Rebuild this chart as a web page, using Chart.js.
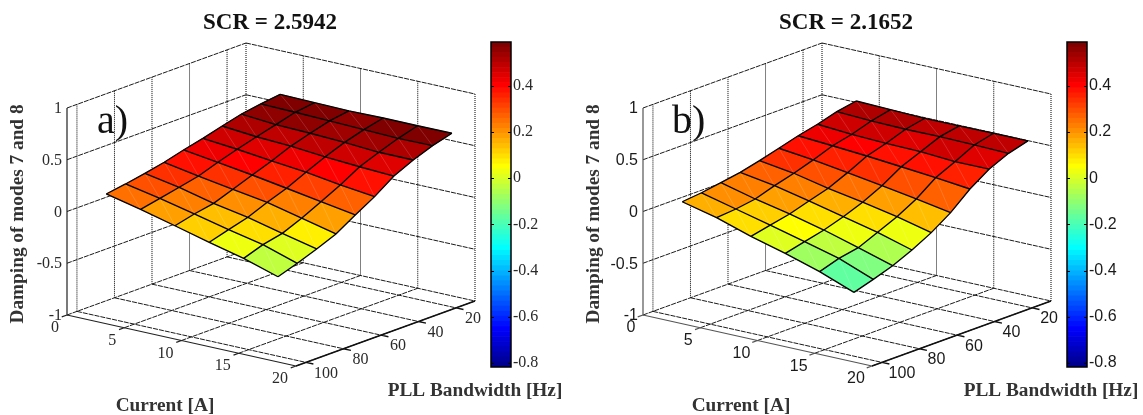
<!DOCTYPE html>
<html><head><meta charset="utf-8">
<script src="https://cdn.jsdelivr.net/npm/chart.js@4"></script>
<style>html,body{margin:0;padding:0;background:#fff;width:1143px;height:415px;overflow:hidden}
canvas{position:absolute;top:0}</style></head>
<body>
<canvas id="pa" width="571" height="415" style="left:0"></canvas>
<canvas id="pb" width="567" height="415" style="left:576px"></canvas>
<canvas id="ca" width="70" height="415" style="left:490px"></canvas>
<canvas id="cb" width="70" height="415" style="left:1066px"></canvas>
<script>
const currentGrid=[3,6,9,12,15,18];
const pllGrid=[10,20.3,30.6,40.9,51.2,61.5,71.8,82.1,92.4,102.7];
const dampingA=[
[.579,.555,.524,.476,.425,.38,.329,.29,.255,.226],
[.572,.547,.495,.446,.393,.335,.27,.229,.19,.152],
[.566,.537,.486,.43,.354,.286,.216,.148,.113,.067],
[.572,.527,.472,.40,.319,.232,.164,.087,.035,-.019],
[.571,.517,.45,.378,.27,.176,.084,.006,-.035,-.10],
[.572,.52,.449,.362,.231,.122,.006,-.071,-.142,-.204]];
const dampingB=[
[.514,.479,.425,.382,.329,.277,.232,.2,.17,.151],
[.504,.463,.402,.359,.29,.229,.177,.116,.087,.071],
[.495,.457,.389,.334,.241,.158,.103,.045,.006,-.035],
[.495,.459,.382,.304,.189,.097,.025,-.036,-.081,-.126],
[.498,.453,.359,.272,.135,.031,-.052,-.133,-.168,-.229],
[.498,.446,.362,.237,.076,-.049,-.149,-.233,-.297,-.355]];
const currentTicks=[0,5,10,15,20];
const pllTicks=[20,40,60,80,100];
const zTicks=[-1,-0.5,0,0.5,1];
const colorTicks=[-0.8,-0.6,-0.4,-0.2,0,0.2,0.4];
const cMin=-0.817,cMax=0.59;
const pMin=9.9,pMax=105.3,curMax=20;

const SERIF='"Liberation Serif","Times New Roman",serif', SANS='"Liberation Sans",Arial,sans-serif';
function jet(i){const t=(i+1)/64,f=v=>Math.round(255*Math.max(0,Math.min(1,v)));
  return `rgb(${f(1.5-Math.abs(4*t-3))},${f(1.5-Math.abs(4*t-2))},${f(1.5-Math.abs(4*t-1))})`;}
function colorOf(z){return jet(Math.max(0,Math.min(63,Math.floor((z-cMin)/(cMax-cMin)*64))));}
function proj(c,p,z){const u=c/curMax,v=(pMax-p)/(pMax-pMin),w=(z+1)/2;
  return {x:67+229*u+179*v,y:315+51*u-65*v-207*w};}
function segs(list){const o=[];list.forEach(s=>{s.forEach(q=>o.push(proj(q[0],q[1],q[2])));o.push({x:null,y:null});});return o;}
function lineDs(list,color,width,dash){return {data:segs(list),showLine:true,borderColor:color,borderWidth:width,borderDash:dash||[],pointRadius:0,fill:false,spanGaps:false};}

function panel(id,Z,opt){
  const ds=[];
  const tz=zTicks, vert=[],slant=[];
  pllTicks.forEach(p=>vert.push([[0,p,-1],[0,p,1]]));
  currentTicks.slice(1).forEach(c=>vert.push([[c,pMin,-1],[c,pMin,1]]));
  vert.push([[0,pMin,-1],[0,pMin,1]]);
  tz.slice(1).forEach(z=>{slant.push([[0,pMax,z],[0,pMin,z]]);slant.push([[0,pMin,z],[curMax,pMin,z]]);});
  currentTicks.slice(1).forEach(c=>slant.push([[c,pMax,-1],[c,pMin,-1]]));
  pllTicks.forEach(p=>slant.push([[0,p,-1],[curMax,p,-1]]));
  slant.push([[0,pMax,-1],[0,pMin,-1]],[[0,pMin,-1],[curMax,pMin,-1]]);
  ds.push(lineDs(vert,'#000',1,[1,1]));
  ds.push(lineDs(slant,'#1a1a1a',1,[5,1]));
  for(let i=0;i<currentGrid.length-1;i++)for(let j=0;j<pllGrid.length-1;j++){
    const col=colorOf(Z[i][j]);
    const q=[[i,j],[i+1,j],[i+1,j+1],[i,j+1],[i,j]].map(a=>proj(currentGrid[a[0]],pllGrid[a[1]],Z[a[0]][a[1]]));
    ds.push({data:q,showLine:true,borderColor:col,borderWidth:.6,backgroundColor:col,fill:'shape',pointRadius:0});
  }
  const diag=[],edge=[];
  for(let i=0;i<currentGrid.length-1;i++)for(let j=0;j<pllGrid.length-1;j++)
    diag.push([[currentGrid[i],pllGrid[j],Z[i][j]],[currentGrid[i+1],pllGrid[j+1],Z[i+1][j+1]]]);
  currentGrid.forEach((c,i)=>edge.push(pllGrid.map((p,j)=>[c,p,Z[i][j]])));
  pllGrid.forEach((p,j)=>edge.push(currentGrid.map((c,i)=>[c,p,Z[i][j]])));
  ds.push(lineDs(diag,'rgba(255,255,255,.3)',.5));
  ds.push(lineDs(edge,'#000',1.35));
  const axes=[[[0,pMax,-1],[0,pMax,1]],[[0,pMax,-1],[curMax,pMax,-1]]];
  currentTicks.forEach(c=>axes.push([[c,pMax,-1],[c,pMax+2.8,-1]]));
  ds.push(lineDs(axes,opt.sans?'#555':'#222',1.2));
  const pAxis=[[[curMax,pMax,-1],[curMax,pMin,-1]]];
  pllTicks.forEach(p=>pAxis.push([[curMax,p,-1],[curMax+.65,p,-1]]));
  ds.push(lineDs(pAxis,'#111',1.4));
  ds.forEach((d,i)=>d.order=-i);

  const labels={id:'labels',afterDraw(ch){
    const g=ch.ctx,sx=ch.scales.x,sy=ch.scales.y;
    const pt=(c,p,z)=>{const q=proj(c,p,z);return [sx.getPixelForValue(q.x),sy.getPixelForValue(q.y)];};
    const put=(t,x,y,font,color,al)=>{g.font=font;g.fillStyle=color;g.textAlign=al||'center';g.textBaseline='middle';g.fillText(t,x,y);};
    g.save();
    const tf=opt.sans?`16px ${SANS}`:`16px ${SERIF}`, tc=opt.sans?'#1a1a1a':'#2a2a2a';
    zTicks.forEach(z=>{const a=pt(0,pMax,z);put(String(z),a[0]-5,a[1]+1,tf,tc,'right');});
    currentTicks.forEach(c=>{const a=pt(c,pMax,-1);put(String(c),a[0]-(c<10?12:16),a[1]+13,tf,tc);});
    pllTicks.forEach(p=>{const a=pt(curMax,p,-1);put(String(p),a[0]+(p<100?17:20),a[1]+11,tf,tc);});
    put(opt.title,sx.getPixelForValue(270),sy.getPixelForValue(23),`bold 23px ${SERIF}`,'#111');
    put('Current [A]',sx.getPixelForValue(165),sy.getPixelForValue(406),`bold 19.3px ${SERIF}`,'#333');
    put('PLL Bandwidth [Hz]',sx.getPixelForValue(475),sy.getPixelForValue(391),`bold 19.3px ${SERIF}`,'#333');
    g.save();g.translate(sx.getPixelForValue(18),sy.getPixelForValue(214));g.rotate(-Math.PI/2);
    put('Damping of modes 7 and 8',0,0,`bold 19.3px ${SERIF}`,'#333');g.restore();
    g.textBaseline='alphabetic';g.textAlign='left';g.font=`40px ${SERIF}`;g.fillStyle='#111';
    g.fillText(opt.tag,sx.getPixelForValue(opt.tagX),sy.getPixelForValue(133));
    g.restore();
  }};
  new Chart(document.getElementById(id),{type:'scatter',data:{datasets:ds},plugins:[labels],
    options:{responsive:false,animation:false,events:[],layout:{padding:0},
      plugins:{legend:{display:false},tooltip:{enabled:false},title:{display:false}},
      scales:{x:{type:'linear',display:false,min:0,max:opt.w},y:{type:'linear',display:false,min:0,max:415,reverse:true}}}});
}

function colorbar(id,sans){
  const ds=[];
  for(let i=0;i<64;i++){const s=(cMax-cMin)/64;ds.push({data:[[cMin+i*s,cMin+(i+1)*s]],backgroundColor:jet(i),borderWidth:0,barPercentage:1,categoryPercentage:1,grouped:false});}
  const frame={id:'frame',afterDraw(ch){const g=ch.ctx,a=ch.chartArea,y=ch.scales.y;g.save();g.strokeStyle='#000';g.lineWidth=1.5;
    g.strokeRect(a.left,a.top,a.right-a.left,a.bottom-a.top);g.lineWidth=1;
    colorTicks.forEach(v=>{const p=Math.round(y.getPixelForValue(v))+.5;g.beginPath();g.moveTo(a.left,p);g.lineTo(a.left+3,p);g.moveTo(a.right-3,p);g.lineTo(a.right,p);g.stroke();});g.restore();}};
  new Chart(document.getElementById(id),{type:'bar',data:{labels:[''],datasets:ds},plugins:[frame],
    options:{responsive:false,animation:false,events:[],grouped:false,layout:{padding:{top:42,bottom:48,left:1,right:0}},
      plugins:{legend:{display:false},tooltip:{enabled:false}},
      scales:{x:{display:false},
        y:{position:'right',min:cMin,max:cMax,afterBuildTicks:s=>{s.ticks=colorTicks.map(v=>({value:v}));},
          grid:{drawOnChartArea:false,drawTicks:false},border:{display:false},
          afterFit:s=>{s.width=49;},
          ticks:{padding:2,color:sans?'#1a1a1a':'#2a2a2a',font:{size:16,family:sans?SANS:SERIF},callback:v=>String(+v.toFixed(1))}}}}});
}

panel('pa',dampingA,{title:'SCR = 2.5942',tag:'a)',tagX:97,w:571,sans:false});
panel('pb',dampingB,{title:'SCR = 2.1652',tag:'b)',tagX:96,w:567,sans:true});
colorbar('ca',false);
colorbar('cb',true);
</script>
</body></html>
